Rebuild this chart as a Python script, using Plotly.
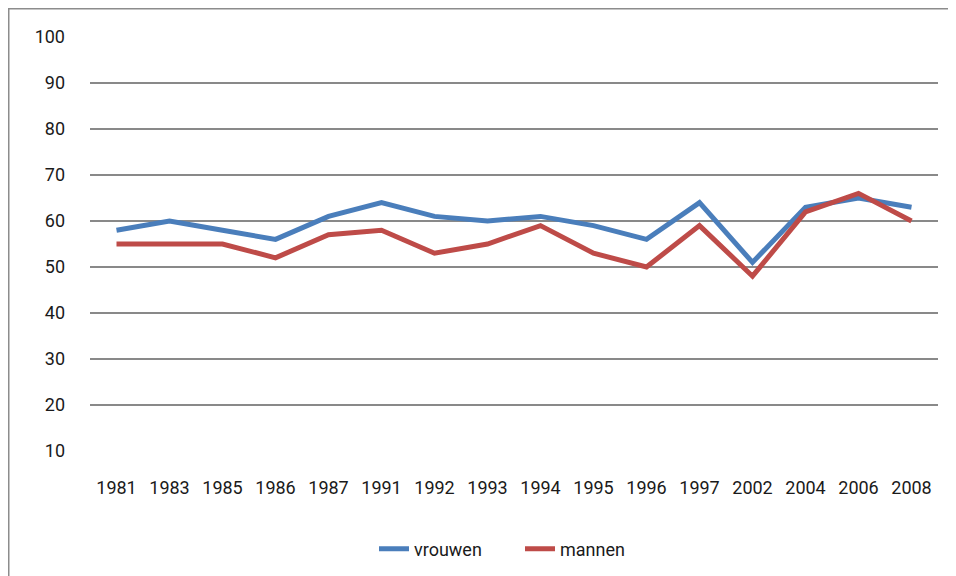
import plotly.graph_objects as go

years = ["1981", "1983", "1985", "1986", "1987", "1991", "1992", "1993",
         "1994", "1995", "1996", "1997", "2002", "2004", "2006", "2008"]
vrouwen = [58, 60, 58, 56, 61, 64, 61, 60, 61, 59, 56, 64, 51, 63, 65, 63]
mannen = [55, 55, 55, 52, 57, 58, 53, 55, 59, 53, 50, 59, 48, 62, 66, 60]
y_ticks = [10, 20, 30, 40, 50, 60, 70, 80, 90, 100]

W, H = 956, 576
OFF = 8  # page body margin
# plot area in screen pixels: x 90..938, y 37..451
L, T = 90 - OFF, 37 - OFF
R, B = W - (938 - OFF), H - (451 - OFF)
pw, ph = W - L - R, H - T - B

def px(p):  # screen px -> paper
    return (p - OFF - L) / pw

def py(q):
    return (H - B - (q - OFF)) / ph

fig = go.Figure()
fig.add_trace(go.Scatter(x=years, y=vrouwen, name="vrouwen", mode="lines",
                         line=dict(color="#4a7ebb", width=5)))
fig.add_trace(go.Scatter(x=years, y=mannen, name="mannen", mode="lines",
                         line=dict(color="#be4b48", width=5)))

tick_font = dict(family="Roboto, Open Sans, sans-serif", size=18, color="#1a1a1a")

fig.update_layout(
    width=W, height=H,
    margin=dict(l=L, r=R, t=T, b=B, autoexpand=False),
    paper_bgcolor="white", plot_bgcolor="white",
    showlegend=True,
    legend=dict(orientation="h", x=px(374), xanchor="left", y=py(549), yanchor="middle",
                font=dict(family="Roboto, Open Sans, sans-serif", size=18, color="#1a1a1a"),
                tracegroupgap=0, entrywidth=101, entrywidthmode="pixels"),
    xaxis=dict(type="category", range=[-0.5, len(years) - 0.5], showgrid=False,
               showline=False, zeroline=False, ticks="", tickfont=tick_font,
               ticklabelstandoff=24),
    yaxis=dict(range=[10, 100], tickvals=y_ticks, showgrid=True, gridcolor="#898989",
               gridwidth=1.6, zeroline=False, showline=False, ticks="",
               tickfont=tick_font, ticklabelstandoff=24),
    shapes=[
        dict(type="line", xref="paper", yref="paper", x0=px(8.75), x1=px(8.75),
             y0=py(600), y1=py(7), line=dict(color="#8c8c8c", width=1.5)),
        dict(type="line", xref="paper", yref="paper", x0=px(7), x1=px(980),
             y0=py(8.75), y1=py(8.75), line=dict(color="#8c8c8c", width=1.5)),
    ],
)

fig.write_html("out.html")
